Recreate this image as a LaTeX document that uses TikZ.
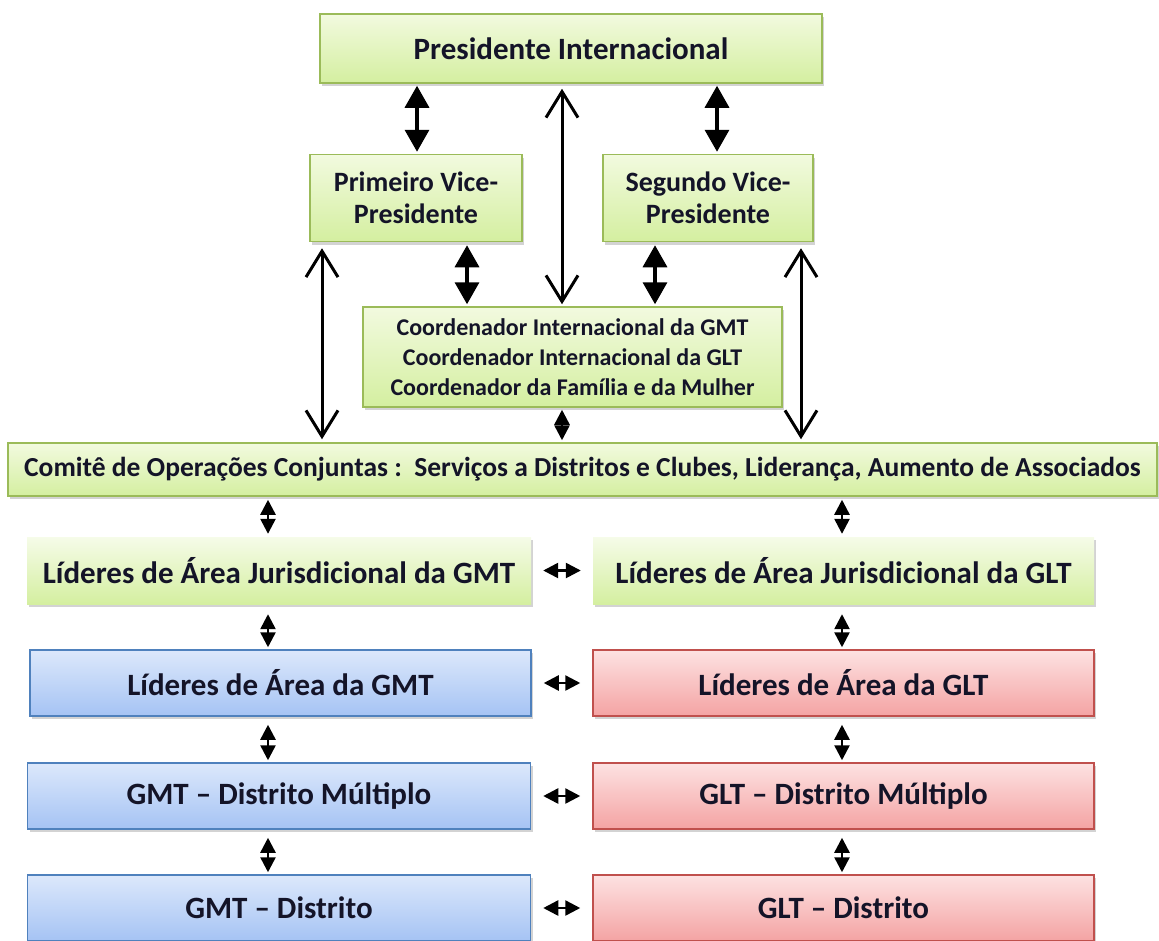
\documentclass[tikz,border=0pt]{standalone}
\usepackage{fontspec}
\setmainfont{Carlito}
\usetikzlibrary{arrows.meta,shadows,calc}
\definecolor{gbord}{HTML}{9BBB59}
\definecolor{gtop}{HTML}{F2FADF}
\definecolor{gbot}{HTML}{D4EFA0}
\definecolor{bbord}{HTML}{4F81BD}
\definecolor{btop}{HTML}{DCE8FB}
\definecolor{bbot}{HTML}{A5C3F4}
\definecolor{rbord}{HTML}{C0504D}
\definecolor{rtop}{HTML}{FDE2E2}
\definecolor{rbot}{HTML}{F4A3A3}
\definecolor{tcol}{HTML}{141428}
\tikzset{
  box/.style={rectangle, inner sep=0pt, align=center, text=tcol, font=\bfseries,
    drop shadow={opacity=0.35, shadow xshift=2pt, shadow yshift=-3pt}},
  gbox/.style={box, draw=gbord, line width=1.5pt, top color=gtop, bottom color=gbot},
  gplain/.style={box, top color=gtop!70!white, bottom color=gbot},
  bbox/.style={box, draw=bbord, line width=1.5pt, top color=btop, bottom color=bbot},
  rbox/.style={box, draw=rbord, line width=1.5pt, top color=rtop, bottom color=rbot},
  rowfont/.style={font=\bfseries\fontsize{31}{36}\selectfont},
  bigarr/.style={line width=3.5pt, {Triangle[width=24pt,length=22pt]}-{Triangle[width=24pt,length=22pt]}},
  openarr/.style={line width=3pt, {Straight Barb[width=32pt,length=26pt,line width=3pt]}-{Straight Barb[width=32pt,length=26pt,line width=3pt]}},
  smallarr/.style={line width=2.5pt, {Triangle[width=15pt,length=15pt]}-{Triangle[width=15pt,length=15pt]}},
}
\begin{document}
\begin{tikzpicture}[x=1pt,y=-1pt]
\useasboundingbox (0,0) rectangle (1159,940);
% top
\node[gbox, minimum width=502pt, minimum height=69pt, font=\bfseries\fontsize{31}{36}\selectfont] (pres) at (571,48.5) {Presidente Internacional};
\node[gbox, minimum width=212pt, minimum height=87pt, font=\bfseries\fontsize{28}{32}\selectfont] (vp1) at (416,198) {Primeiro Vice-\\Presidente};
\node[gbox, minimum width=210pt, minimum height=87pt, font=\bfseries\fontsize{28}{32}\selectfont] (vp2) at (708,198) {Segundo Vice-\\Presidente};
\node[gbox, minimum width=419pt, minimum height=100pt, font=\bfseries\fontsize{24}{30}\selectfont] (coord) at (572.5,357) {Coordenador Internacional da GMT\\Coordenador Internacional da GLT\\Coordenador da Família e da Mulher};
\node[gbox, minimum width=1149pt, minimum height=53pt, font=\bfseries\fontsize{27.5}{32}\selectfont] (com) at (582.5,469.5) {Comitê de Operações Conjuntas :\ \ Serviços a Distritos e Clubes, Liderança, Aumento de Associados};
% rows
\node[gplain, rowfont, minimum width=504pt, minimum height=67pt] (jg) at (279,570.5) {Líderes de Área Jurisdicional da GMT};
\node[gplain, rowfont, minimum width=501pt, minimum height=67pt] (jl) at (843.5,570.5) {Líderes de Área Jurisdicional da GLT};
\node[bbox, rowfont, minimum width=501pt, minimum height=66pt] (ag) at (280.5,683) {Líderes de Área da GMT};
\node[rbox, rowfont, minimum width=501pt, minimum height=66pt] (al) at (843.5,683) {Líderes de Área da GLT};
\node[bbox, rowfont, minimum width=503pt, minimum height=66pt] (dmg) at (279,796) {GMT – Distrito Múltiplo};
\node[rbox, rowfont, minimum width=501pt, minimum height=66pt] (dml) at (843.5,796) {GLT – Distrito Múltiplo};
\node[bbox, rowfont, minimum width=503pt, minimum height=66pt] (dg) at (279,908) {GMT – Distrito};
\node[rbox, rowfont, minimum width=501pt, minimum height=66pt] (dl) at (843.5,908) {GLT – Distrito};
% x guides
\coordinate (xa) at (417,0);
\coordinate (xb) at (717,0);
\coordinate (xm) at (562,0);
\coordinate (xc) at (467,0);
\coordinate (xd) at (655,0);
\coordinate (xe) at (322,0);
\coordinate (xf) at (801,0);
\coordinate (xL) at (268,0);
\coordinate (xR) at (842,0);
% top arrows
\draw[bigarr] ([yshift=-2pt]pres.south -| xa) -- ([yshift=2pt]vp1.north -| xa);
\draw[bigarr] ([yshift=-2pt]pres.south -| xb) -- ([yshift=2pt]vp2.north -| xb);
\draw[openarr] ([yshift=-5pt]pres.south -| xm) -- ([yshift=2pt]coord.north -| xm);
\draw[bigarr] ([yshift=-3pt]vp1.south -| xc) -- ([yshift=2pt]coord.north -| xc);
\draw[bigarr] ([yshift=-3pt]vp2.south -| xd) -- ([yshift=2pt]coord.north -| xd);
\draw[openarr] ([yshift=-6pt]vp1.south -| xe) -- ([yshift=3pt]com.north -| xe);
\draw[openarr] ([yshift=-6pt]vp2.south -| xf) -- ([yshift=3pt]com.north -| xf);
\draw[smallarr] ([yshift=-2pt]coord.south -| xm) -- ([yshift=2pt]com.north -| xm);
% column arrows
\draw[smallarr] ([yshift=-3pt]com.south -| xL) -- ([yshift=3pt]jg.north -| xL);
\draw[smallarr] ([yshift=-3pt]com.south -| xR) -- ([yshift=3pt]jl.north -| xR);
\draw[smallarr] ([yshift=-10pt]jg.south -| xL) -- ([yshift=2pt]ag.north -| xL);
\draw[smallarr] ([yshift=-10pt]jl.south -| xR) -- ([yshift=2pt]al.north -| xR);
\draw[smallarr] ([yshift=-8pt]ag.south -| xL) -- ([yshift=2pt]dmg.north -| xL);
\draw[smallarr] ([yshift=-8pt]al.south -| xR) -- ([yshift=2pt]dml.north -| xR);
\draw[smallarr] ([yshift=-8pt]dmg.south -| xL) -- ([yshift=2pt]dg.north -| xL);
\draw[smallarr] ([yshift=-8pt]dml.south -| xR) -- ([yshift=2pt]dl.north -| xR);
% row arrows
\draw[smallarr] ([xshift=12pt]jg.east) -- ([xshift=-12pt]jl.west);
\draw[smallarr] ([xshift=12pt]ag.east) -- ([xshift=-12pt]al.west);
\draw[smallarr] ([xshift=12pt]dmg.east) -- ([xshift=-12pt]dml.west);
\draw[smallarr] ([xshift=12pt]dg.east) -- ([xshift=-12pt]dl.west);
\end{tikzpicture}
\end{document}
